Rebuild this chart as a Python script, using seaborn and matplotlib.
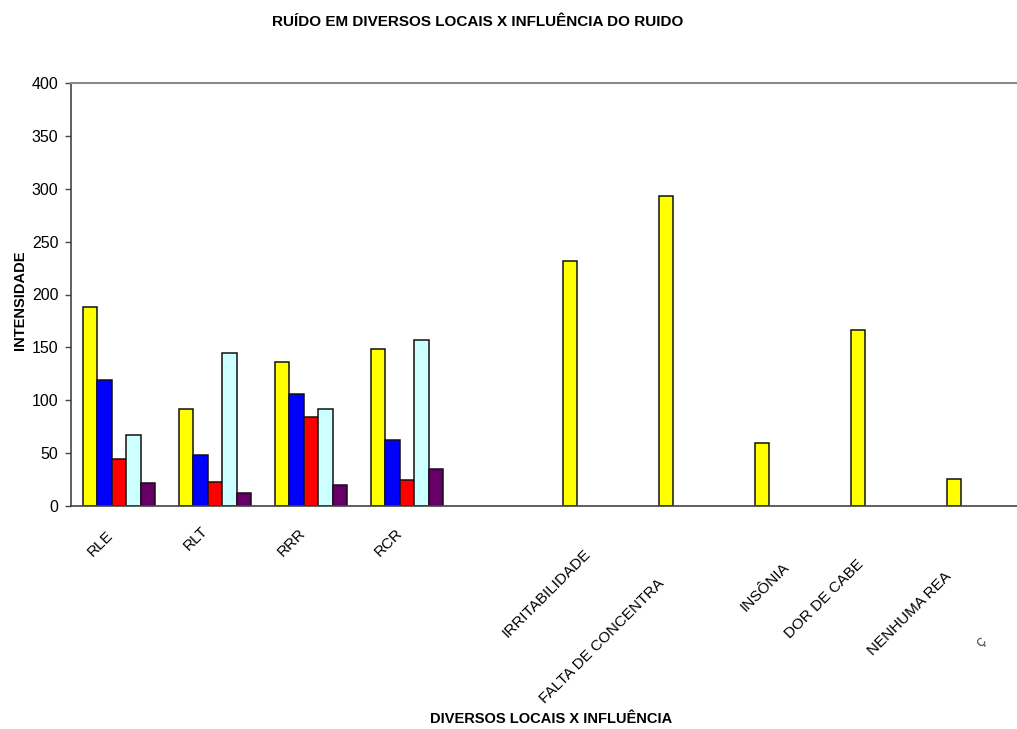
import numpy as np
import pandas as pd
import matplotlib
matplotlib.use("Agg")
import matplotlib.pyplot as plt
import matplotlib.transforms as mtrans
import seaborn as sns

sns.set_style("white")
plt.rcParams['font.family'] = ['Liberation Sans', 'DejaVu Sans']
plt.rcParams['text.color'] = 'black'
plt.rcParams['xtick.color'] = 'black'
plt.rcParams['ytick.color'] = 'black'

# categorias do eixo x (a quinta fica vazia no original)
locais = ["RLE", "RLT", "RRR", "RCR", " ", "IRRITABILIDADE",
          "FALTA DE CONCENTRA", "INSÔNIA", "DOR DE CABE", "NENHUMA REA"]
series = ["Série 1", "Série 2", "Série 3", "Série 4", "Série 5"]
nan = np.nan
serie1 = [188, 92, 136, 148, nan, 232, 293, 60, 166, 26]
serie2 = [119, 48, 106, 62, nan, nan, nan, nan, nan, nan]
serie3 = [44, 23, 84, 25, nan, nan, nan, nan, nan, nan]
serie4 = [67, 145, 92, 157, nan, nan, nan, nan, nan, nan]
serie5 = [22, 12, 20, 35, nan, nan, nan, nan, nan, nan]
yticks = list(range(0, 401, 50))

cores = ['#FFFF00', '#0000FF', '#FF0000', '#CCFFFF', '#660066']

rows = []
for nome, vals in zip(series, [serie1, serie2, serie3, serie4, serie5]):
    for loc, v in zip(locais, vals):
        rows.append({'local': loc, 'serie': nome, 'valor': v})
df = pd.DataFrame(rows).dropna()

fig = plt.figure(figsize=(10.17, 7.29), dpi=100, facecolor='white')
ax = fig.add_axes([71 / 1017, 223 / 729, 960 / 1017, 423 / 729])

sns.barplot(data=df, x='local', y='valor', hue='serie', order=locais,
            hue_order=series, palette=cores, saturation=1, width=0.75,
            edgecolor='#111111', linewidth=1.1, errorbar=None,
            legend=False, ax=ax)

ax.set_xlim(-0.5, len(locais) - 0.5)
ax.set_ylim(0, 400)
ax.set_yticks(yticks)
ax.set_xlabel('')
ax.set_ylabel('')

for s in ['left', 'bottom']:
    ax.spines[s].set_color('#444444')
    ax.spines[s].set_linewidth(1.2)
ax.spines['top'].set_color('#8a8a8a')
ax.spines['top'].set_linewidth(1.5)
ax.spines['right'].set_visible(False)

ax.set_xticks(range(len(locais)))
ax.set_xticklabels(locais, rotation=45, ha='right', va='top',
                   rotation_mode='anchor', fontsize=11)
ax.set_xticks(np.arange(-0.5, len(locais), 1), minor=True)
ax.tick_params(axis='x', which='major', length=0, pad=0)
ax.tick_params(axis='x', which='minor', length=4, width=1, color='#444444',
               direction='out')
ax.tick_params(axis='y', length=4, width=1, color='#444444', labelsize=11.5,
               pad=5, left=True, direction='out')

# deslocamento de cada rótulo (px) para imitar o posicionamento do Excel
desloc = [(-13, 22), (-14, 18), (-13, 20), (-12, 20), (0, 0), (-16, 41),
          (-38, 70), (-9, 54), (-31, 51), (-39, 63)]
for lab, (dx, dy) in zip(ax.get_xticklabels(), desloc):
    lab.set_transform(lab.get_transform() +
                      mtrans.ScaledTranslation(dx / 100, -dy / 100,
                                               fig.dpi_scale_trans))

fig.text(478 / 1017, 1 - 22 / 729,
         'RUÍDO EM DIVERSOS LOCAIS X INFLUÊNCIA DO RUIDO',
         ha='center', va='center', fontsize=11, fontweight='bold')
fig.text(551 / 1017, 1 - 719 / 729, 'DIVERSOS LOCAIS X INFLUÊNCIA',
         ha='center', va='center', fontsize=10.5, fontweight='bold')
fig.text(20 / 1017, 1 - 300 / 729, 'INTENSIDADE', rotation=90,
         ha='center', va='center', fontsize=10.5, fontweight='bold')
fig.text(982 / 1017, 1 - 643 / 729, 'Ç', rotation=45, ha='center',
         va='center', fontsize=8, color='#222222')

fig.savefig('out.png', dpi=100, facecolor='white')
plt.close(fig)
